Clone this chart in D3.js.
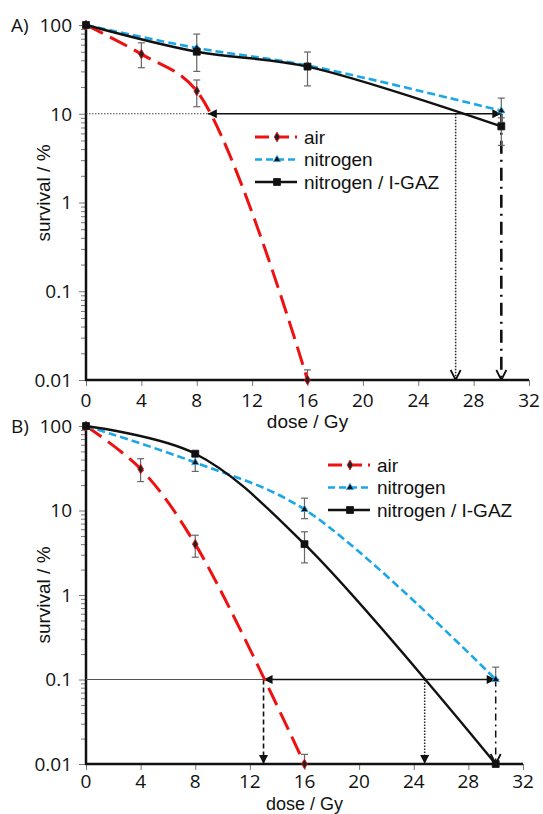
<!DOCTYPE html>
<html>
<head>
<meta charset="utf-8">
<script src="https://cdn.jsdelivr.net/npm/d3@7/dist/d3.min.js"></script>
<style>
  body { margin: 0; background: #fff; }
  svg { display: block; }
</style>
</head>
<body>
<div id="chart"></div>
<script>
// ---- data, panel A ----
const doseAirA = [0, 4, 8, 16];
const airA = [100, 47, 18, 0.01];
const airErrA = [null, [33, 63], [12, 24], [0.01, 0.013]];
const doseN2A = [0, 8, 16, 30];
const n2A = [100, 55, 35, 10.8];
const n2ErrA = [null, [30, 79], null, [8, 15]];
const doseGazA = [0, 8, 16, 30];
const gazA = [100, 50, 34, 7.2];
const gazErrA = [null, null, [20.6, 49.6], [4.4, 9]];

// ---- data, panel B ----
const doseAirB = [0, 4, 8, 16];
const airB = [100, 31, 4, 0.01];
const airErrB = [null, [22, 41], [2.8, 5.1], [0.01, 0.013]];
const doseN2B = [0, 8, 16, 30];
const n2B = [100, 37, 10.3, 0.1];
const n2ErrB = [null, [29, 44], [8, 14], [0.1, 0.14]];
const doseGazB = [0, 8, 16, 30];
const gazB = [100, 47, 4, 0.01];
const gazErrB = [null, null, [2.4, 5.6], null];

// ---- axes / labels ----
const xTicks = [0, 4, 8, 12, 16, 20, 24, 28, 32];
const yTicks = [100, 10, 1, 0.1, 0.01];
const yTickLabels = ["100", "10", "1", "0.1", "0.01"];
const seriesNames = ["air", "nitrogen", "nitrogen / I-GAZ"];

// ---- annotation guides [dose1, surv1, dose2, surv2, style] ----
const guidesA = [
  [0, 10, 8.8, 10, "dotH"],
  [8.8, 10, 30, 10, "double"],
  [26.7, 10, 26.7, 0.01, "dotV"],
  [30, 10, 30, 0.01, "dashdotA"]
];
const guidesB = [
  [0, 0.1, 13, 0.1, "thin"],
  [13, 0.1, 30, 0.1, "double"],
  [13, 0.1, 13, 0.01, "dashV"],
  [24.8, 0.1, 24.8, 0.01, "dotVfill"],
  [30, 0.1, 30, 0.01, "dashdotB"]
];

const width = 543, height = 814;
const svg = d3.select("#chart").append("svg")
  .attr("width", width).attr("height", height);
svg.append("rect").attr("width", width).attr("height", height).attr("fill", "#fff");

// arrow heads
const defs = svg.append("defs");
defs.append("marker").attr("id", "headFill")
  .attr("viewBox", "0 0 10 10").attr("refX", 10).attr("refY", 5)
  .attr("markerWidth", 10).attr("markerHeight", 9)
  .attr("markerUnits", "userSpaceOnUse")
  .attr("orient", "auto-start-reverse")
  .append("path").attr("d", "M0,0 L10,5 L0,10 Z").attr("fill", "#111");
defs.append("marker").attr("id", "headOpen")
  .attr("viewBox", "0 0 12 12").attr("refX", 11).attr("refY", 6)
  .attr("markerWidth", 12).attr("markerHeight", 12)
  .attr("markerUnits", "userSpaceOnUse")
  .attr("orient", "auto")
  .append("path").attr("d", "M1,1 L11,6 L1,11").attr("fill", "none")
  .attr("stroke", "#111").attr("stroke-width", 1.8);

const guideStyle = {
  dotH: { w: 1, dash: "1.5,1.5", color: "#444" },
  thin: { w: 1, dash: null, color: "#555" },
  double: { w: 1.6, dash: null, color: "#111", start: "headFill", end: "headFill" },
  dotV: { w: 1.5, dash: "1.5,1.5", color: "#222", end: "headOpen" },
  dotVfill: { w: 1.5, dash: "1.5,1.5", color: "#222", end: "headFill" },
  dashV: { w: 1.6, dash: "5,3", color: "#111", end: "headFill" },
  dashdotA: { w: 2.6, dash: "13,6,2,6", color: "#111", end: "headOpen" },
  dashdotB: { w: 1.5, dash: "7,4,2,4", color: "#111", end: "headOpen" }
};

const tickFont = "'Open Sans', sans-serif";
const textFont = "'Liberation Sans', Arial, sans-serif";

function drawPanel(p) {
  const x = d3.scaleLinear().domain([0, 32]).range([86, p.xEnd]);
  const y = d3.scaleLog().domain([0.01, 100]).range([p.yBottom, p.yTop]);
  const g = svg.append("g");

  // y axis minor + major ticks
  const yAxis = d3.axisLeft(y)
    .tickValues(d3.range(-2, 2).flatMap(e => d3.range(1, 10).map(m => m * Math.pow(10, e))).concat([100]))
    .tickSize(5).tickFormat("");
  const ya = g.append("g").attr("transform", "translate(86,0)").call(yAxis);
  ya.selectAll(".tick line").attr("stroke", "#777").attr("stroke-width", 1)
    .attr("x2", d => yTicks.includes(d) ? -7 : -5);
  ya.select(".domain").remove();
  g.selectAll(".ylab").data(yTicks).enter().append("text")
    .attr("x", 72).attr("y", d => y(d)).attr("dy", "0.36em")
    .attr("text-anchor", "end")
    .style("font-family", tickFont).style("font-size", "19px").attr("fill", "#111")
    .text((d, i) => yTickLabels[i]);

  // x axis ticks
  const xAxis = d3.axisBottom(x).tickValues(xTicks).tickSize(6).tickFormat("");
  const xa = g.append("g").attr("transform", `translate(0,${p.yBottom})`).call(xAxis);
  xa.selectAll(".tick line").attr("stroke", "#777");
  xa.select(".domain").remove();
  g.selectAll(".xlab").data(xTicks).enter().append("text")
    .attr("x", d => x(d)).attr("y", p.yBottom + p.xLabOff)
    .attr("text-anchor", "middle")
    .style("font-family", tickFont).style("font-size", "19px").attr("fill", "#111")
    .text(d => d);

  // axis lines
  g.append("line").attr("x1", 86).attr("x2", 86).attr("y1", p.yTop).attr("y2", p.yBottom)
    .attr("stroke", "#111").attr("stroke-width", 2.5);
  g.append("line").attr("x1", 85).attr("x2", p.xEnd).attr("y1", p.yBottom).attr("y2", p.yBottom)
    .attr("stroke", "#111").attr("stroke-width", 2.5);

  // titles
  g.append("text").attr("x", x(16)).attr("y", p.yBottom + p.titleOff).attr("text-anchor", "middle")
    .style("font-family", textFont).style("font-size", p.titleSize).attr("fill", "#111")
    .text("dose / Gy");
  g.append("text").attr("transform", `translate(50,${p.yLabel}) rotate(-90)`)
    .attr("text-anchor", "middle")
    .style("font-family", textFont).style("font-size", "19px").attr("fill", "#111")
    .text("survival / %");
  g.append("text").attr("x", 11).attr("y", p.yTop + 7)
    .style("font-family", tickFont).style("font-size", "19px").attr("fill", "#111")
    .text(p.tag);

  // guides
  p.guides.forEach(gd => {
    const s = guideStyle[gd[4]];
    const ln = g.append("line")
      .attr("x1", x(gd[0])).attr("y1", y(gd[1])).attr("x2", x(gd[2])).attr("y2", y(gd[3]))
      .attr("stroke", s.color).attr("stroke-width", s.w);
    if (s.dash) ln.attr("stroke-dasharray", s.dash);
    if (s.start) ln.attr("marker-start", `url(#${s.start})`);
    if (s.end) ln.attr("marker-end", `url(#${s.end})`);
  });

  // series
  const line = d3.line().curve(d3.curveCatmullRom.alpha(0.5))
    .x(d => x(d[0])).y(d => y(d[1]));
  p.series.forEach(s => {
    const pts = s.dose.map((d, i) => [d, s.val[i]]);
    // error bars
    s.err.forEach((e, i) => {
      if (!e) return;
      const cx = x(s.dose[i]);
      const eg = g.append("g").attr("stroke", "#666").attr("stroke-width", 1.2);
      eg.append("line").attr("x1", cx).attr("x2", cx).attr("y1", y(e[0])).attr("y2", y(e[1]));
      eg.append("line").attr("x1", cx - 3.5).attr("x2", cx + 3.5).attr("y1", y(e[1])).attr("y2", y(e[1]));
      if (e[0] > 0.0101)
        eg.append("line").attr("x1", cx - 3.5).attr("x2", cx + 3.5).attr("y1", y(e[0])).attr("y2", y(e[0]));
    });
    const path = g.append("path").datum(pts).attr("d", line)
      .attr("fill", "none").attr("stroke", s.color).attr("stroke-width", s.w);
    if (s.dash) path.attr("stroke-dasharray", s.dash);
    g.selectAll(null).data(pts).enter().append("path")
      .attr("transform", d => `translate(${x(d[0])},${y(d[1])})`)
      .attr("d", d3.symbol().type(s.symbol).size(s.size))
      .attr("fill", s.fill).attr("stroke", s.color).attr("stroke-width", 0.8);
  });

  // legend
  p.series.forEach((s, i) => {
    const ly = p.legY + i * 22.5;
    const ln = g.append("line").attr("x1", p.legX).attr("x2", p.legX + 42)
      .attr("y1", ly).attr("y2", ly).attr("stroke", s.color).attr("stroke-width", s.w);
    if (s.dash) ln.attr("stroke-dasharray", s.legDash);
    g.append("path").attr("transform", `translate(${p.legX + 22},${ly})`)
      .attr("d", d3.symbol().type(s.symbol).size(s.size))
      .attr("fill", s.fill).attr("stroke", s.color).attr("stroke-width", 0.8);
    g.append("text").attr("x", p.legX + 49).attr("y", ly).attr("dy", "0.35em")
      .style("font-family", textFont).style("font-size", "19px").attr("fill", "#111")
      .text(seriesNames[i]);
  });
}

function makeSeries(dAir, vAir, eAir, dN2, vN2, eN2, dG, vG, eG) {
  return [
    { dose: dAir, val: vAir, err: eAir, color: "#ee1111", w: 3, dash: "19,8", legDash: "14,6",
      symbol: d3.symbolDiamond, size: 28, fill: "#222" },
    { dose: dN2, val: vN2, err: eN2, color: "#1aa7e8", w: 2.6, dash: "8,4", legDash: "7,4",
      symbol: d3.symbolTriangle, size: 22, fill: "#111" },
    { dose: dG, val: vG, err: eG, color: "#111", w: 2.4, dash: null, legDash: null,
      symbol: d3.symbolSquare, size: 48, fill: "#111" }
  ];
}

drawPanel({
  tag: "A)", xEnd: 529, yTop: 25, yBottom: 380, yLabel: 193,
  xLabOff: 27, titleOff: 48, titleSize: "19px",
  legX: 255, legY: 137, guides: guidesA,
  series: makeSeries(doseAirA, airA, airErrA, doseN2A, n2A, n2ErrA, doseGazA, gazA, gazErrA)
});
drawPanel({
  tag: "B)", xEnd: 523, yTop: 426, yBottom: 764, yLabel: 595,
  xLabOff: 24, titleOff: 46, titleSize: "18px",
  legX: 328, legY: 465, guides: guidesB,
  series: makeSeries(doseAirB, airB, airErrB, doseN2B, n2B, n2ErrB, doseGazB, gazB, gazErrB)
});
</script>
</body>
</html>
